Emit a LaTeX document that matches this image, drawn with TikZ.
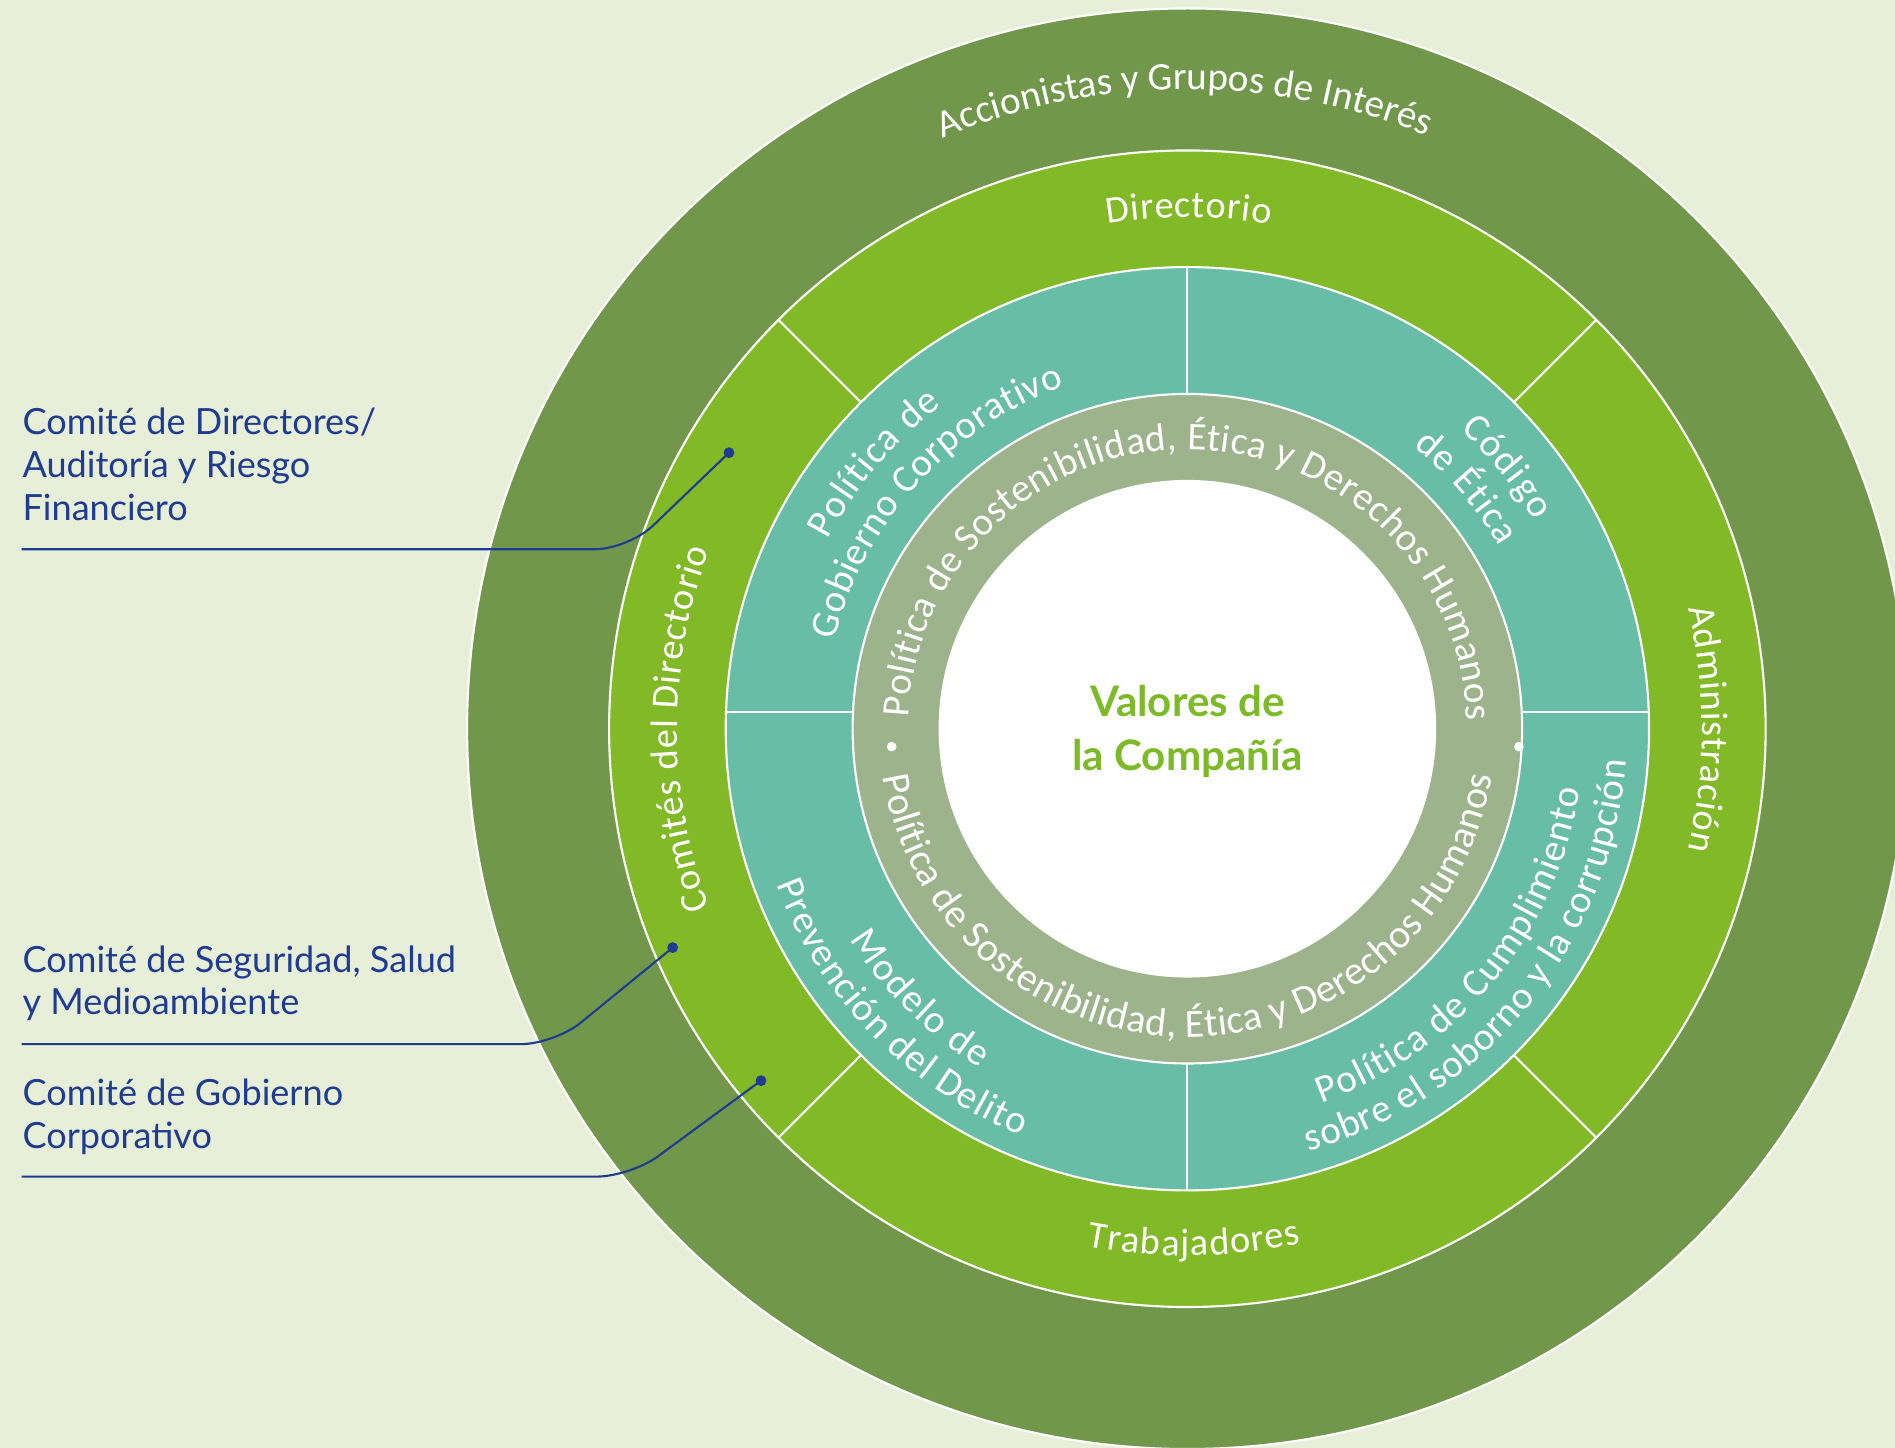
\documentclass[tikz,border=0pt]{standalone}
\usepackage{fontspec}
\setmainfont{Lato}
\newfontfamily\ringface{Carlito}
\usetikzlibrary{decorations.text}

\definecolor{bgcream}{HTML}{E7EFD9}
\definecolor{ringdark}{HTML}{71974B}
\definecolor{ringgreen}{HTML}{81B927}
\definecolor{ringteal}{HTML}{68BDA6}
\definecolor{ringgray}{HTML}{9CB38C}
\definecolor{labelblue}{HTML}{1F3C91}
\definecolor{valgreen}{HTML}{7DBA28}

\begin{document}
\begin{tikzpicture}[x=0.1mm, y=0.1mm,
  ring/.style={draw=white, line width=0.5pt},
  sep/.style={white, line width=0.5pt},
  arctext/.style 2 args={decorate, decoration={text along path, text align={fit to path},
      text={|\color{white}\ringface\fontsize{#1}{10}\selectfont|#2}}},
  comite/.style={anchor=base west, align=left, inner sep=0pt, text=labelblue,
      font=\fontsize{8.5}{10.1}\selectfont},
  bdot/.style={circle, fill=labelblue, inner sep=0pt, minimum size=0.9mm},
  conn/.style={labelblue, line width=0.5pt, rounded corners=2.8mm}]
\useasboundingbox (-982.5,-595) rectangle (585.5,603);
\fill[bgcream] (-982.5,-595) rectangle (585.5,603);

% rings
\begin{scope}
\clip (-982.5,-595) rectangle (585.5,603);
\fill[ringdark, ring] (0,0) circle[radius=596];
\fill[ringgreen, ring] (0,0) circle[radius=478.5];
\fill[ringteal, ring] (0,0) circle[radius=382];
\fill[ringgray, ring] (0,0) circle[radius=277];
\fill[white, ring] (0,0) circle[radius=205];
\end{scope}

\foreach \a in {45,135,225,315}
  \draw[sep] (\a:382) -- (\a:478.5);
\draw[sep] (0,277) -- (0,382) (0,-277) -- (0,-382);
\draw[sep] (-276.6,14) -- (-381.7,14) (276.6,14) -- (381.7,14);
\fill[white] (-244.7,-14.8) circle[radius=4] (274.3,-14.8) circle[radius=4];

% outer and green ring texts
\path[arctext={9.2}{Accionistas y Grupos de Interés}] (112.5:529) arc[start angle=112.5, end angle=68.2, radius=529];
\path[arctext={9}{Directorio}] (99:423) arc[start angle=99, end angle=80.7, radius=423];
\path[arctext={9}{Comités del Directorio}] (200.5:422) arc[start angle=200.5, end angle=159.5, radius=422];
\path[arctext={9}{Administración}] (13.5:426) arc[start angle=13.5, end angle=-13.6, radius=426];
\path[arctext={9}{Trabajadores}] (259:436) arc[start angle=259, end angle=282.5, radius=436];

% teal ring texts
\path[arctext={9.2}{Política de}] (152.3:336) arc[start angle=152.3, end angle=127.2, radius=336];
\path[arctext={9.2}{Gobierno Corporativo}] (165.9:301) arc[start angle=165.9, end angle=109.7, radius=301];
\path[arctext={9.2}{Código}] (47.6:335) arc[start angle=47.6, end angle=30.9, radius=335];
\path[arctext={9.2}{de Ética}] (51.3:299) arc[start angle=51.3, end angle=30.3, radius=299];
\path[arctext={9.2}{Modelo de}] (212:329) arc[start angle=212, end angle=238.5, radius=329];
\path[arctext={9.2}{Prevención del Delito}] (200.8:364) arc[start angle=200.8, end angle=247.8, radius=364];
\path[arctext={9.2}{Política de Cumplimiento}] (-70.3:329) arc[start angle=-70.3, end angle=-8.7, radius=329];
\path[arctext={9.2}{sobre el soborno y la corrupción}] (-74:364) arc[start angle=-74, end angle=-4.1, radius=364];

% gray ring texts
\path[arctext={9.2}{Política de Sostenibilidad, Ética y Derechos Humanos}] (177.7:231) arc[start angle=177.7, end angle=1.7, radius=231];
\path[arctext={9.4}{Política de Sostenibilidad, Ética y Derechos Humanos}] (188.9:255) arc[start angle=188.9, end angle=351.2, radius=255];

\node[font=\bfseries\fontsize{9.9}{12.8}\selectfont, text=valgreen, align=center] (valores) at (0,-2) {Valores de\\la Compañía};

% committees
\node[comite] (cdir) at (-964.5,172.7) {Comité de Directores/\\Auditoría y Riesgo\\Financiero};
\node[comite] (cssm) at (-964.5,-236.8) {Comité de Seguridad, Salud\\y Medioambiente};
\node[comite] (cgob) at (-964.5,-347) {Comité de Gobierno\\Corporativo};

\node[bdot] (d1) at (-379.3,228.4) {};
\node[bdot] (d2) at (-425.9,-181.1) {};
\node[bdot] (d3) at (-352.8,-291.2) {};
\coordinate (u1) at (-964.5,148.5);
\coordinate (u2) at (-964.5,-261);
\coordinate (u3) at (-964.5,-370.6);
\coordinate (k1) at (-462.5,148.5);
\coordinate (k2) at (-523.7,-261);
\coordinate (k3) at (-460.9,-370.6);
\draw[conn] (u1) -- (k1) -- (d1.center);
\draw[conn] (u2) -- (k2) -- (d2.center);
\draw[conn] (u3) -- (k3) -- (d3.center);
\end{tikzpicture}
\end{document}
